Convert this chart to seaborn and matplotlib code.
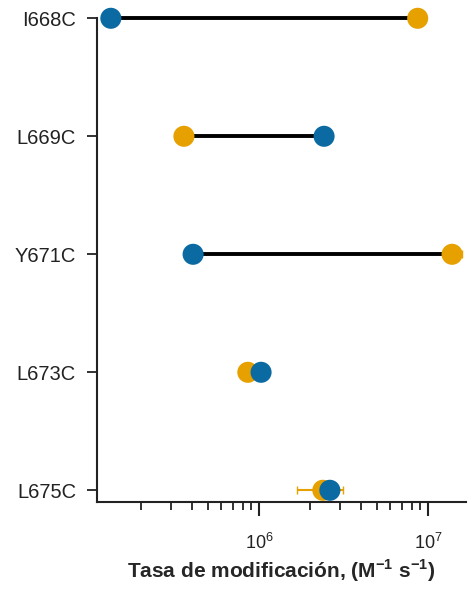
import matplotlib
matplotlib.use("Agg")
import matplotlib.pyplot as plt
import seaborn as sns
import pandas as pd
import numpy as np
from matplotlib.ticker import LogLocator, NullFormatter

mutants = ["I668C", "L669C", "Y671C", "L673C", "L675C"]
blue_vals = [1.33e5, 2.43e6, 4.08e5, 1.03e6, 2.63e6]
orange_vals = [8.7e6, 3.6e5, 1.39e7, 8.6e5, 2.39e6]
orange_err_lo = [0, 0.4e5, 1.5e6, 0.4e5, 0.7e6]
orange_err_hi = [0, 0.4e5, 2.0e6, 0.4e5, 0.75e6]

sns.set_theme(style="ticks")
plt.rcParams['font.family'] = ['Liberation Sans', 'DejaVu Sans']
plt.rcParams['mathtext.fontset'] = 'custom'
plt.rcParams['mathtext.rm'] = 'Liberation Sans'
plt.rcParams['mathtext.bf'] = 'Liberation Sans:bold'

fig = plt.figure(figsize=(4.75, 5.9), dpi=100)
ax = fig.add_axes([0.204, 0.149, 0.777, 0.820])

blue_c = "#0b6aa2"
orange_c = "#e6a000"

ypos = np.arange(len(mutants))
ax.hlines(ypos, np.minimum(blue_vals, orange_vals), np.maximum(blue_vals, orange_vals),
          color="black", lw=2.8, zorder=1, clip_on=False)
ax.errorbar(orange_vals, ypos, xerr=[orange_err_lo, orange_err_hi], fmt="none",
            ecolor=orange_c, elinewidth=1.5, capsize=3, zorder=2, clip_on=False)

df = pd.DataFrame({
    "mutant": mutants * 2,
    "rate": orange_vals + blue_vals,
    "grp": ["o"] * 5 + ["b"] * 5,
})
sns.scatterplot(data=df, x="rate", y="mutant", hue="grp",
                palette={"o": orange_c, "b": blue_c}, s=230, edgecolor="none",
                legend=False, ax=ax, zorder=3, clip_on=False)

ax.set_xscale("log")
ax.set_xlim(1.1e5, 1.68e7)
ax.set_ylim(4.1, 0)
ax.set_yticks(ypos)
ax.set_yticklabels(mutants)
ax.xaxis.set_major_locator(LogLocator(base=10, numticks=10))
ax.xaxis.set_minor_locator(LogLocator(base=10, subs=np.arange(2, 10), numticks=20))
ax.xaxis.set_minor_formatter(NullFormatter())

for s in ["top", "right"]:
    ax.spines[s].set_visible(False)
for s in ["left", "bottom"]:
    ax.spines[s].set_linewidth(1.5)
    ax.spines[s].set_color("#222222")

ax.tick_params(axis="x", which="major", length=10, width=1.5, labelsize=13, colors="#222222", pad=12)
ax.tick_params(axis="x", which="minor", length=6, width=1.3, colors="#222222")
ax.tick_params(axis="y", which="major", length=7, width=1.3, labelsize=14.5, colors="#222222", pad=8)

ax.set_xlabel(r"Tasa de modificación, (M$^{\mathregular{-1}}$ s$^{\mathregular{-1}}$)", fontsize=15,
              fontweight="bold", labelpad=3)
ax.set_ylabel("")

fig.savefig("out.png", dpi=100)
